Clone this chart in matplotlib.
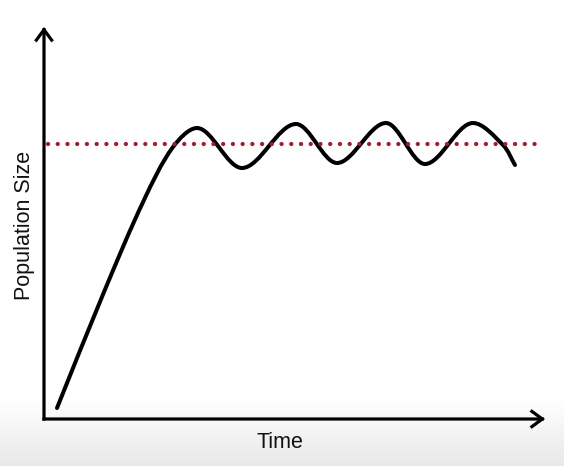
import numpy as np
import matplotlib
matplotlib.use("Agg")
import matplotlib.pyplot as plt
from matplotlib.patches import FancyArrowPatch, PathPatch
from matplotlib.path import Path

# Key points of the curve (arbitrary units):
# the rise, then the peaks and troughs, then the cut-off end
time = [13, 60, 100, 129, 153, 198, 252, 293, 342, 381, 429, 459, 471]
population = [11, 127, 219, 272, 291, 251, 295, 256, 296, 255, 296, 274, 254]
carrying_capacity = 275
cc_range = [4, 499]
x_max = 501
y_max = 392

W, H = 564, 466
fig = plt.figure(figsize=(W / 100, H / 100), dpi=100)

# background gradient at the bottom
bg = fig.add_axes([0, 0, 1, 1], zorder=-10)
bg.axis("off")
grad = np.ones((466, 1))
g0 = 400
for i in range(g0, 466):
    grad[i, 0] = 1.0 - 0.09 * (i - g0) / (466 - g0)
bg.imshow(np.dstack([grad, grad, grad]), aspect="auto", extent=[0, 1, 0, 1],
          origin="upper", interpolation="bilinear")

ax = fig.add_axes([44 / W, (H - 419) / H, 501 / W, 392 / H])
ax.set_xlim(0, x_max)
ax.set_ylim(0, y_max)
ax.axis("off")
ax.patch.set_alpha(0)

# axes arrows
for end in [(x_max, 0), (0, y_max)]:
    arr = FancyArrowPatch((0, 0), end, arrowstyle="->,head_length=0.75,head_width=0.55",
                          mutation_scale=10, lw=2.3, color="black",
                          shrinkA=0, shrinkB=0, joinstyle="miter", capstyle="projecting",
                          clip_on=False)
    ax.add_patch(arr)

# carrying capacity dotted line
ax.plot(cc_range, [carrying_capacity, carrying_capacity], color="#a11d30",
        lw=3.1, linestyle=(0, (0.01, 2.25)), dash_capstyle="round", clip_on=False)

# population curve: smooth cubic Bezier path through the key points
P = np.column_stack([time, population]).astype(float)
n = len(P)
seg = np.hypot(*np.diff(P, axis=0).T)
u = np.zeros_like(P)
ext = np.zeros(n, dtype=bool)
for i in range(n):
    if 0 < i < n - 1:
        y0, y1, y2 = P[i - 1, 1], P[i, 1], P[i + 1, 1]
        if (y1 > y0 and y1 > y2) or (y1 < y0 and y1 < y2):
            ext[i] = True
            u[i] = (1.0, 0.0)
            continue
        d = P[i + 1] - P[i - 1]
    elif i == 0:
        d = P[1] - P[0]
    else:
        d = P[-1] - P[-2]
    u[i] = d / np.hypot(*d)
verts = [P[0]]
codes = [Path.MOVETO]
for i in range(n - 1):
    dx = P[i + 1, 0] - P[i, 0]
    h0 = dx / 3.0 if ext[i] else seg[i] / 3.0
    h1 = dx / 3.0 if ext[i + 1] else seg[i] / 3.0
    verts += [P[i] + u[i] * h0, P[i + 1] - u[i + 1] * h1, P[i + 1]]
    codes += [Path.CURVE4] * 3
ax.add_patch(PathPatch(Path(verts, codes), fill=False, edgecolor="black", lw=2.9,
                       capstyle="round", joinstyle="round", clip_on=False))

fig.text(280 / W, 1 - 443 / H, "Time", ha="center", va="center",
         fontsize=15.5, family="Liberation Sans", color="#111111")
fig.text(25 / W, 1 - 225 / H, "Population Size", ha="center", va="center",
         rotation=90, fontsize=15.5, family="Liberation Sans", color="#111111")

fig.savefig("out.png", dpi=100)
